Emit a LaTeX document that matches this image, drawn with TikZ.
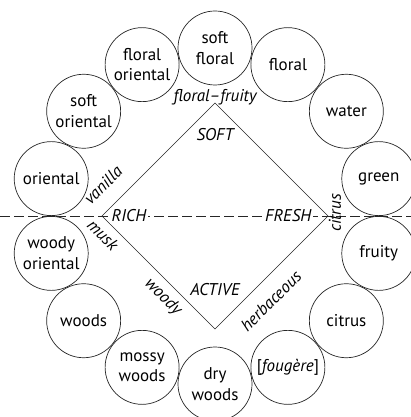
\documentclass[tikz,border=0pt]{standalone}
\usepackage{fontspec}
\setmainfont{PT Sans}
\usetikzlibrary{positioning}

\begin{document}
\begin{tikzpicture}[
			x=1pt, y=1pt,
			aroma/.style={circle, draw=black!85, line width=0.7pt, minimum size=74pt, inner sep=0pt, align=center, font=\fontsize{17}{20.5}\selectfont},
			pole/.style={font=\fontsize{17}{20}\selectfont\itshape, inner sep=1.5pt},
			axis/.style={draw=black!85, line width=0.7pt, dash pattern=on 10pt off 4pt},
			side/.style={draw=black!85, line width=0.7pt}
		]
		\useasboundingbox (-215,-201) rectangle (196,216);
		% ring of families
		\foreach \txt [count=\i from 0] in {{soft\\floral}, floral, water, green, fruity, citrus, {[\textit{fougère}]}, {dry\\woods}, {mossy\\woods}, woods, {woody\\oriental}, oriental, {soft\\oriental}, {floral\\oriental}}
			\node[aroma] (aroma\i) at ({90-\i*360/14}:168) {\txt};
		
		\coordinate (west) at (-215,0);
		\coordinate (east) at (196,0);
		\coordinate (top) at (0,113);
		\coordinate (right) at (113,0);
		\coordinate (bottom) at (0,-113);
		\coordinate (left) at (-113,0);
		
		\draw[axis] (west) -- (east);
		\draw[side] (top) -- (right) -- (bottom) -- (left) -- cycle;
		
		\node[pole, fill=white, right=8pt of left] (rich) {RICH};
		\node[pole, fill=white, left=15pt of right] (fresh) {FRESH};
		\node[pole] (soft) at (0,81) {SOFT};
		\node[pole] (active) at (0,-74) {ACTIVE};
		\node[pole] (floralfruity) at (0,119) {floral–fruity};
		\node[pole, rotate=45] (vanilla) at (-112,31) {vanilla};
		\node[pole, rotate=-45] (musk) at (-112,-19) {musk};
		\node[pole, rotate=-45] (woody) at (-52,-81) {woody};
		\node[pole, rotate=45] (herbaceous) at (56,-85) {herbaceous};
		\node[pole, rotate=90] (citrus) at (120,3) {citrus};
		\end{tikzpicture}
\end{document}
